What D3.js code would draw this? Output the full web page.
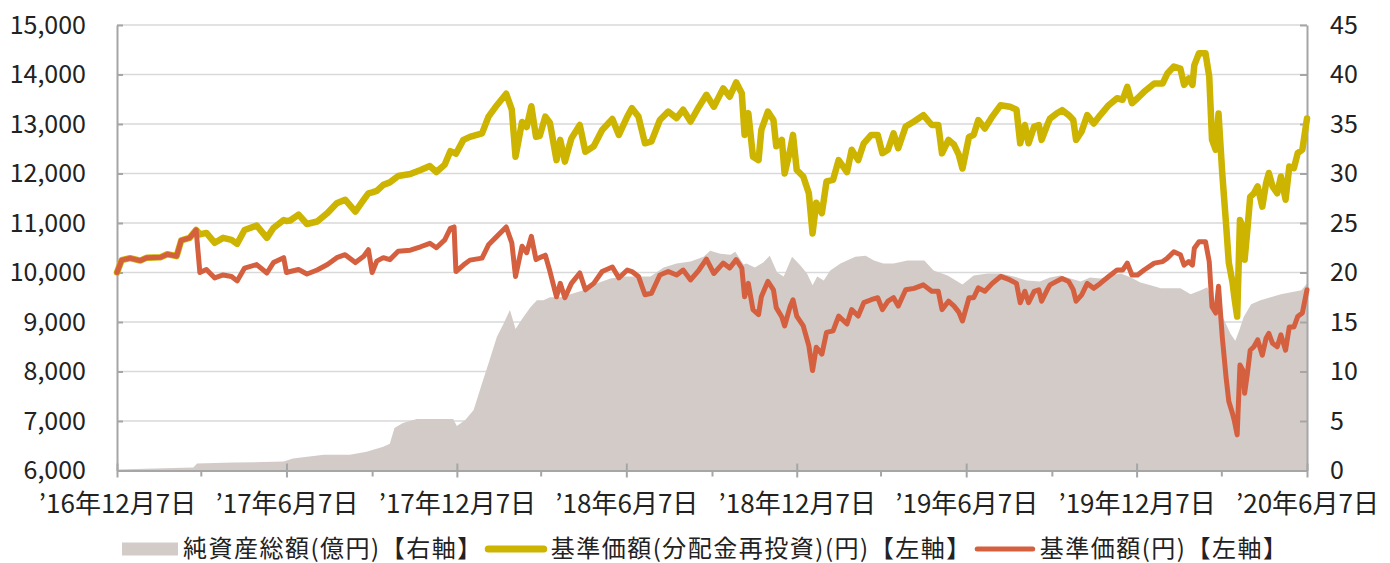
<!DOCTYPE html>
<html>
<head>
<meta charset="utf-8">
<script src="https://cdn.jsdelivr.net/npm/d3@7"></script>
<style>
  body { margin: 0; background: #fff; }
  text { font-family: "Noto Sans CJK JP", "Noto Sans", sans-serif; fill: #222; }
</style>
</head>
<body>
<script>
// 基準価額の日付（分配金再投資・分配前は同じ日付で読む）
var navDates = [
  "2016-12-07", "2016-12-12", "2016-12-21", "2017-01-01", "2017-01-08", "2017-01-23", "2017-01-30", "2017-02-09",
  "2017-02-14", "2017-02-23", "2017-03-02", "2017-03-06", "2017-03-13", "2017-03-22", "2017-03-31", "2017-04-09",
  "2017-04-15", "2017-04-23", "2017-05-06", "2017-05-17", "2017-05-24", "2017-06-04", "2017-06-07", "2017-06-11",
  "2017-06-20", "2017-06-29", "2017-07-10", "2017-07-21", "2017-07-31", "2017-08-09", "2017-08-20", "2017-08-29",
  "2017-09-03", "2017-09-07", "2017-09-12", "2017-09-19", "2017-09-26", "2017-10-05", "2017-10-18", "2017-10-29",
  "2017-11-08", "2017-11-15", "2017-11-24", "2017-11-30", "2017-12-04", "2017-12-06", "2017-12-14", "2017-12-21",
  "2018-01-03", "2018-01-10", "2018-01-19", "2018-01-29", "2018-02-04", "2018-02-08", "2018-02-15", "2018-02-20",
  "2018-02-25", "2018-03-02", "2018-03-06", "2018-03-12", "2018-03-17", "2018-03-24", "2018-03-28", "2018-04-02",
  "2018-04-09", "2018-04-18", "2018-04-24", "2018-05-03", "2018-05-12", "2018-05-23", "2018-05-30", "2018-06-08",
  "2018-06-13", "2018-06-20", "2018-06-27", "2018-07-04", "2018-07-13", "2018-07-22", "2018-07-31", "2018-08-07",
  "2018-08-15", "2018-08-24", "2018-09-01", "2018-09-09", "2018-09-19", "2018-09-26", "2018-10-03", "2018-10-09",
  "2018-10-12", "2018-10-16", "2018-10-21", "2018-10-27", "2018-10-30", "2018-11-06", "2018-11-12", "2018-11-15",
  "2018-11-21", "2018-11-24", "2018-11-30", "2018-12-03", "2018-12-07", "2018-12-14", "2018-12-20", "2018-12-24",
  "2018-12-28", "2019-01-03", "2019-01-08", "2019-01-15", "2019-01-21", "2019-01-30", "2019-02-04", "2019-02-11",
  "2019-02-17", "2019-02-25", "2019-03-04", "2019-03-09", "2019-03-15", "2019-03-21", "2019-03-26", "2019-04-03",
  "2019-04-12", "2019-04-22", "2019-05-01", "2019-05-08", "2019-05-12", "2019-05-19", "2019-05-25", "2019-05-30",
  "2019-06-03", "2019-06-10", "2019-06-15", "2019-06-20", "2019-06-27", "2019-07-05", "2019-07-14", "2019-07-24",
  "2019-07-31", "2019-08-04", "2019-08-09", "2019-08-13", "2019-08-19", "2019-08-24", "2019-08-27", "2019-09-02",
  "2019-09-05", "2019-09-12", "2019-09-18", "2019-09-25", "2019-09-30", "2019-10-03", "2019-10-09", "2019-10-15",
  "2019-10-22", "2019-10-29", "2019-11-07", "2019-11-16", "2019-11-22", "2019-11-27", "2019-12-02", "2019-12-08",
  "2019-12-15", "2019-12-26", "2020-01-04", "2020-01-09", "2020-01-16", "2020-01-23", "2020-01-27", "2020-02-01",
  "2020-02-05", "2020-02-07", "2020-02-12", "2020-02-19", "2020-02-23", "2020-02-26", "2020-03-01", "2020-03-04",
  "2020-03-08", "2020-03-12", "2020-03-15", "2020-03-19", "2020-03-21", "2020-03-24", "2020-03-27", "2020-03-30",
  "2020-04-01", "2020-04-04", "2020-04-07", "2020-04-11", "2020-04-15", "2020-04-20", "2020-04-24", "2020-04-27",
  "2020-05-01", "2020-05-06", "2020-05-10", "2020-05-15", "2020-05-19", "2020-05-24", "2020-05-28", "2020-06-02",
  "2020-06-07"
];

// 基準価額（分配金再投資）（円）
var navReinvested = [
  10000, 10250, 10290, 10240, 10300, 10310, 10370, 10330,
  10650, 10700, 10860, 10770, 10800, 10600, 10700, 10660,
  10580, 10860, 10950, 10700, 10900, 11060, 11040, 11050,
  11170, 10980, 11030, 11200, 11400, 11470, 11230, 11470,
  11600, 11620, 11650, 11770, 11820, 11950, 11990, 12070,
  12150, 12030, 12180, 12450, 12420, 12400, 12680, 12740,
  12810, 13150, 13380, 13610, 13290, 12340, 13040, 12940,
  13360, 12740, 12760, 13150, 13020, 12270, 12680, 12240,
  12710, 12980, 12440, 12550, 12880, 13100, 12780, 13150,
  13320, 13150, 12610, 12650, 13080, 13250, 13120, 13290,
  13050, 13350, 13590, 13350, 13720, 13550, 13840, 13620,
  12780, 13220, 12340, 12270, 12880, 13250, 13080, 12550,
  12680, 12000, 12480, 12780, 12070, 11940, 11600, 10790,
  11410, 11200, 11840, 11870, 12270, 12030, 12480, 12270,
  12610, 12780, 12780, 12410, 12480, 12810, 12510, 12950,
  13050, 13180, 12980, 12980, 12410, 12680, 12580, 12380,
  12100, 12740, 12780, 13080, 12910, 13150, 13380, 13350,
  13290, 12610, 12980, 12610, 12950, 12980, 12680, 12980,
  13110, 13210, 13280, 13180, 13080, 12680, 12850, 13180,
  13010, 13180, 13380, 13520, 13490, 13750, 13420, 13520,
  13650, 13820, 13820, 14020, 14160, 14120, 13790, 13920,
  13790, 14190, 14430, 14430, 13960, 12680, 12480, 13210,
  12000, 11000, 10200, 9800, 9500, 9110, 11060, 10930,
  10260, 10870, 11530, 11600, 11740, 11330, 11800, 12010,
  11740, 11600, 11940, 11470, 12140, 12110, 12410, 12480,
  13110
];

// 基準価額（円）
var navPlain = [
  10000, 10250, 10290, 10240, 10300, 10310, 10370, 10330,
  10650, 10700, 10860, 10000, 10060, 9890, 9950, 9920,
  9830, 10090, 10160, 9990, 10200, 10300, 10000, 10020,
  10060, 9970, 10050, 10160, 10300, 10360, 10200, 10330,
  10460, 10000, 10230, 10300, 10260, 10430, 10450, 10520,
  10590, 10500, 10660, 10890, 10920, 10020, 10150, 10250,
  10290, 10560, 10730, 10920, 10600, 9920, 10530, 10400,
  10730, 10260, 10300, 10350, 10020, 9510, 9780, 9490,
  9780, 9990, 9650, 9780, 10020, 10110, 9890, 10050,
  10020, 9920, 9550, 9580, 9950, 10020, 9950, 10050,
  9850, 10050, 10270, 9980, 10190, 10090, 10260, 10090,
  9510, 9780, 9250, 9150, 9510, 9820, 9650, 9290,
  9100, 8920, 9320, 9450, 9120, 8920, 8520, 8020,
  8490, 8350, 8790, 8820, 9120, 8960, 9250, 9120,
  9390, 9450, 9490, 9250, 9420, 9490, 9320, 9650,
  9680, 9750, 9620, 9620, 9250, 9420, 9320, 9200,
  9020, 9490, 9490, 9690, 9620, 9780, 9920, 9850,
  9780, 9390, 9620, 9390, 9620, 9650, 9420, 9650,
  9750, 9820, 9880, 9820, 9650, 9420, 9550, 9780,
  9680, 9780, 9920, 10050, 10050, 10190, 9950, 9950,
  10050, 10190, 10220, 10290, 10420, 10360, 10150, 10220,
  10150, 10490, 10620, 10620, 10220, 9310, 9180, 9720,
  8700, 7900, 7400, 7150, 7000, 6720, 8130, 8030,
  7560, 7960, 8430, 8500, 8640, 8330, 8670, 8770,
  8570, 8500, 8740, 8430, 8900, 8900, 9110, 9180,
  9650
];

// 純資産総額（億円）
var assetDates = [
  "2016-12-07", "2017-02-27", "2017-03-03", "2017-04-11", "2017-06-04", "2017-06-14", "2017-07-17", "2017-08-14",
  "2017-09-01", "2017-09-19", "2017-09-26", "2017-10-01", "2017-10-10", "2017-10-25", "2017-11-08", "2017-12-03",
  "2017-12-07", "2017-12-16", "2017-12-25", "2018-01-04", "2018-01-11", "2018-01-19", "2018-01-26", "2018-02-02",
  "2018-02-08", "2018-02-15", "2018-02-24", "2018-03-03", "2018-03-10", "2018-03-17", "2018-03-28", "2018-04-08",
  "2018-04-22", "2018-05-06", "2018-05-21", "2018-06-04", "2018-06-18", "2018-07-03", "2018-07-17", "2018-07-31",
  "2018-08-15", "2018-08-29", "2018-09-05", "2018-09-16", "2018-09-27", "2018-10-02", "2018-10-11", "2018-10-14",
  "2018-10-23", "2018-11-01", "2018-11-08", "2018-11-16", "2018-11-23", "2018-12-02", "2018-12-11", "2018-12-18",
  "2018-12-24", "2018-12-29", "2019-01-05", "2019-01-12", "2019-01-23", "2019-01-30", "2019-02-08", "2019-02-19",
  "2019-02-28", "2019-03-10", "2019-03-21", "2019-04-05", "2019-04-23", "2019-05-03", "2019-05-18", "2019-06-03",
  "2019-06-15", "2019-06-30", "2019-07-14", "2019-07-28", "2019-08-11", "2019-08-25", "2019-09-05", "2019-09-16",
  "2019-09-27", "2019-10-08", "2019-10-18", "2019-10-29", "2019-11-09", "2019-11-20", "2019-12-01", "2019-12-11",
  "2019-12-22", "2020-01-02", "2020-01-12", "2020-01-23", "2020-02-03", "2020-02-14", "2020-02-21", "2020-02-26",
  "2020-03-04", "2020-03-10", "2020-03-17", "2020-03-22", "2020-03-26", "2020-03-31", "2020-04-08", "2020-04-18",
  "2020-04-29", "2020-05-10", "2020-05-21", "2020-06-01", "2020-06-07"
];
var assetValues = [
  0.1, 0.3, 0.7, 0.8, 0.9, 1.2, 1.6, 1.6,
  1.9, 2.4, 2.7, 4.3, 4.8, 5.2, 5.2, 5.2,
  4.5, 5.1, 6.1, 9.1, 11.1, 13.5, 14.8, 16.2,
  14.3, 15.3, 16.5, 17.2, 17.2, 17.5, 17.5, 17.8,
  18.2, 18.9, 19.4, 19.6, 19.6, 19.6, 20.5, 20.9,
  21.1, 21.6, 22.2, 21.9, 21.8, 22.1, 20.8, 20.9,
  20.5, 21.0, 21.7, 20.0, 19.6, 21.6, 20.7, 19.9,
  18.7, 19.6, 19.2, 20.2, 20.9, 21.2, 21.6, 21.7,
  21.2, 20.9, 20.9, 21.2, 21.2, 20.2, 19.7, 18.8,
  19.7, 19.9, 19.9, 19.6, 19.2, 19.1, 19.5, 19.7,
  19.4, 19.1, 19.5, 19.4, 19.7, 19.9, 19.5, 19.0,
  18.7, 18.4, 18.4, 18.4, 17.8, 18.2, 18.5, 17.2,
  16.5, 15.2, 13.8, 13.1, 14.1, 15.5, 16.8, 17.2,
  17.5, 17.8, 18.0, 18.2, 18.9
];

var leftTicks = [6000, 7000, 8000, 9000, 10000, 11000, 12000, 13000, 14000, 15000];
var rightTicks = [0, 5, 10, 15, 20, 25, 30, 35, 40, 45];
var majorTickDates = ["2016-12-07", "2017-06-07", "2017-12-07", "2018-06-07", "2018-12-07", "2019-06-07", "2019-12-07", "2020-06-07"];
var minorTickDates = ["2017-03-07", "2017-09-07", "2018-03-07", "2018-09-07", "2019-03-07", "2019-09-07", "2020-03-07"];
var legendLabels = ["純資産総額(億円)【右軸】", "基準価額(分配金再投資)(円)【左軸】", "基準価額(円)【左軸】"];

var parse = d3.timeParse("%Y-%m-%d");

var svg = d3.select("body").append("svg")
  .attr("width", 1390)
  .attr("height", 563);

var margin = { top: 25, right: 83, bottom: 92.5, left: 117 },
  width = 1390 - margin.left - margin.right,
  height = 563 - margin.top - margin.bottom;

var g = svg.append("g").attr("transform", "translate(" + margin.left + "," + margin.top + ")");

var x = d3.scaleTime()
  .domain([parse(majorTickDates[0]), parse(majorTickDates[majorTickDates.length - 1])])
  .range([0, width]);

var yLeft = d3.scaleLinear().domain([6000, 15000]).range([height, 0]);
var yRight = d3.scaleLinear().domain([0, 45]).range([height, 0]);

var axisColor = "#a6a6a6";
var yellow = "#ccb400", red = "#d5603f", grey = "#d2cbc8";

// grid
g.append("g")
  .selectAll("line")
  .data(leftTicks.slice(1))
  .enter().append("line")
  .attr("x1", 0)
  .attr("x2", width)
  .attr("y1", function (d) { return yLeft(d); })
  .attr("y2", function (d) { return yLeft(d); })
  .attr("stroke", "#d9d9d9")
  .attr("stroke-width", 1.5);

// 純資産総額
var assets = assetDates.map(function (d, i) { return { date: parse(d), value: assetValues[i] }; });

var area = d3.area()
  .x(function (d) { return x(d.date); })
  .y0(height)
  .y1(function (d) { return yRight(d.value); });

g.append("path")
  .datum(assets)
  .attr("d", area)
  .attr("fill", grey);

// axes
var fmtDate = function (d) {
  return "’" + d3.timeFormat("%y")(d) + "年" + (d.getMonth() + 1) + "月" + d.getDate() + "日";
};

g.append("g")
  .attr("transform", "translate(0," + height + ")")
  .call(d3.axisBottom(x)
    .tickValues(minorTickDates.map(parse))
    .tickSize(6)
    .tickSizeOuter(0)
    .tickFormat(""))
  .call(function (a) { a.select(".domain").remove(); });

var xAxis = g.append("g")
  .attr("transform", "translate(0," + height + ")")
  .call(d3.axisBottom(x)
    .tickValues(majorTickDates.map(parse))
    .tickSize(7)
    .tickSizeOuter(0)
    .tickPadding(17)
    .tickFormat(fmtDate));
xAxis.selectAll(".tick line").attr("y1", -7);
xAxis.selectAll(".tick text").style("font-size", "26px");

var leftAxis = g.append("g")
  .call(d3.axisLeft(yLeft)
    .tickValues(leftTicks)
    .tickSize(-6)
    .tickSizeOuter(0)
    .tickPadding(31)
    .tickFormat(d3.format(",")));

var rightAxis = g.append("g")
  .attr("transform", "translate(" + width + ",0)")
  .call(d3.axisRight(yRight)
    .tickValues(rightTicks)
    .tickSize(-7)
    .tickSizeOuter(0)
    .tickPadding(23));

leftAxis.selectAll(".tick text").style("font-size", "25px");
rightAxis.selectAll(".tick text").style("font-size", "25px");

g.selectAll(".domain").attr("stroke", axisColor).attr("stroke-width", 2);
g.selectAll(".tick line").attr("stroke", axisColor).attr("stroke-width", 2);
g.selectAll(".tick text")
  .attr("fill", "#222")
  .style("font-family", "'Noto Sans CJK JP', sans-serif");

// 基準価額 lines
var navLine = function (values) {
  return d3.line()
    .x(function (d, i) { return x(parse(navDates[i])); })
    .y(function (d) { return yLeft(d); })(values);
};

g.append("path")
  .attr("d", navLine(navReinvested))
  .attr("fill", "none")
  .attr("stroke", yellow)
  .attr("stroke-width", 6.5)
  .attr("stroke-linejoin", "round")
  .attr("stroke-linecap", "round");

g.append("path")
  .attr("d", navLine(navPlain))
  .attr("fill", "none")
  .attr("stroke", red)
  .attr("stroke-width", 5)
  .attr("stroke-linejoin", "round")
  .attr("stroke-linecap", "round");

// legend
var legend = svg.append("g")
  .attr("transform", "translate(0,548)")
  .style("font-size", "24px")
  .style("letter-spacing", "1.5px");

var lx = 122;
legendLabels.forEach(function (label, i) {
  var tx;
  if (i == 0) {
    legend.append("rect")
      .attr("x", lx)
      .attr("y", -5.5)
      .attr("width", 56)
      .attr("height", 13)
      .attr("fill", grey);
    tx = lx + 61;
  } else {
    legend.append("line")
      .attr("x1", lx + 3.5)
      .attr("x2", lx + 59)
      .attr("y1", 1)
      .attr("y2", 1)
      .attr("stroke", i == 1 ? yellow : red)
      .attr("stroke-width", i == 1 ? 7 : 5)
      .attr("stroke-linecap", "round");
    tx = lx + 66;
  }
  var t = legend.append("text")
    .attr("x", tx)
    .attr("dy", "0.36em")
    .text(label);
  lx = tx + t.node().getComputedTextLength() + 2;
});
</script>
</body>
</html>
